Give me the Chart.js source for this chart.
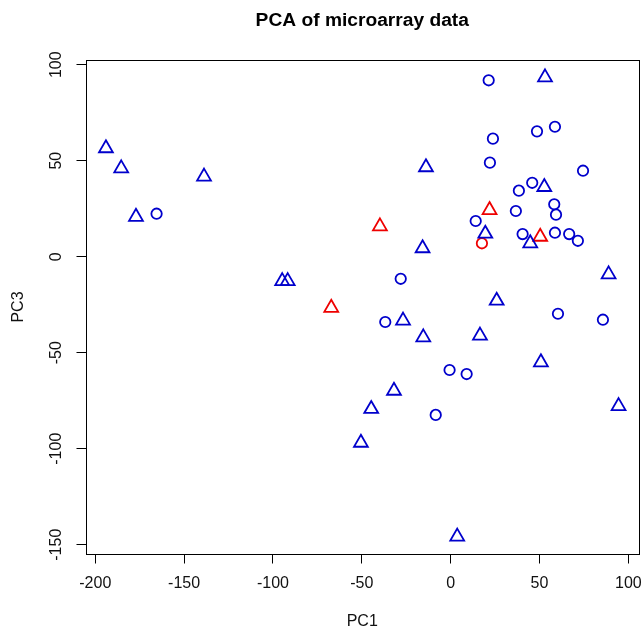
<!DOCTYPE html>
<html>
<head>
<meta charset="utf-8">
<title>PCA of microarray data</title>
<script src="https://cdn.jsdelivr.net/npm/chart.js@4"></script>
<style>
  html, body { margin: 0; padding: 0; background: #fff; }
  #wrap { width: 643px; height: 635px; }
</style>
</head>
<body>
<div id="wrap"><canvas id="pca" width="643" height="635"></canvas></div>
<script>
// values (PC1 / PC3 scores)
const blueTriPC1 = [-194.0, -185.4, -177.1, -138.8, -94.8, -91.7, 53.1, -13.9, 52.7, 19.5, 44.8, -15.8,
  88.9, 25.9, -26.8, -15.4, 16.5, 50.8, -31.9, 94.5, -44.7, -50.5, 3.7];
const blueTriPC3 = [56.5, 46.0, 20.8, 41.7, -12.7, -12.7, 93.4, 46.6, 36.3, 12.0, 7.0, 4.4,
  -9.2, -22.9, -33.3, -42.0, -41.1, -55.0, -69.8, -77.8, -79.3, -96.9, -145.8];

const blueCircPC1 = [-165.5, 21.4, 48.6, 58.7, 23.8, 22.1, 74.5, 45.9, 38.4, 58.3, 59.3, 36.7,
  14.1, 40.5, 58.7, 66.7, 71.6, -28.1, 60.4, 85.7, -36.8, -0.6, 9.0, -8.4];
const blueCircPC3 = [22.4, 91.9, 65.3, 67.7, 61.5, 49.0, 44.8, 38.5, 34.4, 27.3, 21.9, 23.8,
  18.6, 11.8, 12.5, 11.8, 8.3, -11.5, -29.7, -32.8, -34.0, -59.0, -61.1, -82.4];

const redTriPC1 = [-67.2, 21.9, -39.8, 50.4];
const redTriPC3 = [-26.6, 24.3, 15.8, 10.4];

const redCircPC1 = [17.6];
const redCircPC3 = [7.0];

const xTicks = [-200, -150, -100, -50, 0, 50, 100];
const yTicks = [-150, -100, -50, 0, 50, 100];

const BLUE = "#0000cc";
const RED = "#ee0000";
const FONT = "'Liberation Sans', Arial, Helvetica, sans-serif";

function toPoints(xs, ys) {
  return xs.map((x, i) => ({ x: x, y: ys[i] }));
}

function series(xs, ys, color, shape) {
  return {
    data: toPoints(xs, ys),
    pointStyle: shape,
    pointRadius: shape === "triangle" ? 8 : 5.2,
    pointHoverRadius: shape === "triangle" ? 8 : 5.2,
    pointBorderColor: color,
    pointBackgroundColor: "rgba(0,0,0,0)",
    pointBorderWidth: 1.8,
    showLine: false,
    clip: false,
  };
}

// white background + the R-style box round the plot region
const boxPlugin = {
  id: "box",
  beforeDraw(chart) {
    const ctx = chart.ctx;
    ctx.save();
    ctx.fillStyle = "#fff";
    ctx.fillRect(0, 0, chart.width, chart.height);
    ctx.restore();
  },
  afterDraw(chart) {
    const { left, top, right, bottom } = chart.chartArea;
    const ctx = chart.ctx;
    ctx.save();
    ctx.strokeStyle = "#000";
    ctx.lineWidth = 1;
    ctx.strokeRect(Math.round(left) + 0.5, Math.round(top) + 0.5,
      Math.round(right - left) - 1, Math.round(bottom - top) - 1);
    ctx.restore();
  },
};

function noPad(scale) {
  scale.paddingLeft = 0;
  scale.paddingRight = 0;
  scale.paddingTop = 0;
  scale.paddingBottom = 0;
}

new Chart(document.getElementById("pca"), {
  type: "scatter",
  data: {
    datasets: [
      series(blueTriPC1, blueTriPC3, BLUE, "triangle"),
      series(blueCircPC1, blueCircPC3, BLUE, "circle"),
      series(redTriPC1, redTriPC3, RED, "triangle"),
      series(redCircPC1, redCircPC3, RED, "circle"),
    ],
  },
  options: {
    responsive: false,
    animation: false,
    events: [],
    // autoPadding would reserve room for the point radius on every side
    layout: { autoPadding: false, padding: { top: 0, right: 4, bottom: 0, left: 0 } },
    plugins: {
      legend: { display: false },
      tooltip: { enabled: false },
      title: {
        display: true,
        fullSize: false,
        text: "PCA of microarray data",
        color: "#000",
        font: { family: FONT, size: 19.2, weight: "bold", lineHeight: 1.2 },
        padding: { top: 8.8, bottom: 27.7 },
      },
    },
    scales: {
      x: {
        type: "linear",
        position: "bottom",
        min: -205.5,
        max: 106,
        afterBuildTicks: (s) => { s.ticks = xTicks.map((v) => ({ value: v })); },
        afterFit: (s) => { s.height = 80.5; noPad(s); },
        ticks: {
          color: "#111",
          font: { family: FONT, size: 16, lineHeight: 2.46 },
          padding: 0,
          maxRotation: 0,
          autoSkip: false,
        },
        grid: { drawOnChartArea: false, drawTicks: true, tickLength: 9, color: "#000", lineWidth: 1 },
        border: { display: false },
        title: {
          display: true,
          text: "PC1",
          color: "#111",
          font: { family: FONT, size: 16 },
          padding: { top: 0, bottom: 3.6 },
        },
      },
      y: {
        type: "linear",
        position: "left",
        min: -155.1,
        max: 102.7,
        afterBuildTicks: (s) => { s.ticks = yTicks.map((v) => ({ value: v })); },
        afterFit: (s) => { s.width = 85.5; noPad(s); },
        ticks: {
          color: "#111",
          font: { family: FONT, size: 16 },
          padding: 3.7,
          minRotation: 90,
          maxRotation: 90,
          crossAlign: "center",
          autoSkip: false,
        },
        grid: { drawOnChartArea: false, drawTicks: true, tickLength: 9, color: "#000", lineWidth: 1 },
        border: { display: false },
        title: {
          display: true,
          text: "PC3",
          color: "#111",
          font: { family: FONT, size: 16 },
          padding: { top: 8.8, bottom: 0 },
        },
      },
    },
  },
  plugins: [boxPlugin],
});
</script>
</body>
</html>
